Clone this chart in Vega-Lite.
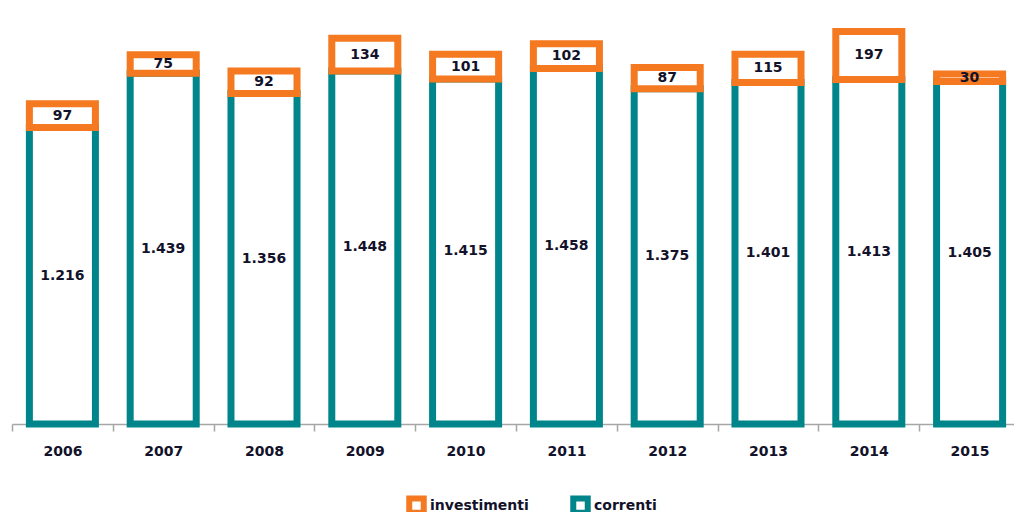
{
  "$schema": "https://vega.github.io/schema/vega-lite/v6.json",
  "autosize": "none",
  "width": 1002,
  "height": 424,
  "padding": {"left": 12, "top": 0, "right": 0, "bottom": 88},
  "background": "white",
  "config": {
    "view": {"stroke": null},
    "locale": {"number": {"decimal": ",", "thousands": ".", "grouping": [3], "currency": ["€", ""]}},
    "font": "DejaVu Sans"
  },
  "data": {
    "values": [
      {"anno": "2006", "tipo": "correnti", "valore": 1216},
      {"anno": "2006", "tipo": "investimenti", "valore": 97},
      {"anno": "2007", "tipo": "correnti", "valore": 1439},
      {"anno": "2007", "tipo": "investimenti", "valore": 75},
      {"anno": "2008", "tipo": "correnti", "valore": 1356},
      {"anno": "2008", "tipo": "investimenti", "valore": 92},
      {"anno": "2009", "tipo": "correnti", "valore": 1448},
      {"anno": "2009", "tipo": "investimenti", "valore": 134},
      {"anno": "2010", "tipo": "correnti", "valore": 1415},
      {"anno": "2010", "tipo": "investimenti", "valore": 101},
      {"anno": "2011", "tipo": "correnti", "valore": 1458},
      {"anno": "2011", "tipo": "investimenti", "valore": 102},
      {"anno": "2012", "tipo": "correnti", "valore": 1375},
      {"anno": "2012", "tipo": "investimenti", "valore": 87},
      {"anno": "2013", "tipo": "correnti", "valore": 1401},
      {"anno": "2013", "tipo": "investimenti", "valore": 115},
      {"anno": "2014", "tipo": "correnti", "valore": 1413},
      {"anno": "2014", "tipo": "investimenti", "valore": 197},
      {"anno": "2015", "tipo": "correnti", "valore": 1405},
      {"anno": "2015", "tipo": "investimenti", "valore": 30}
    ]
  },
  "encoding": {
    "x": {
      "field": "anno",
      "type": "ordinal",
      "scale": {"range": [0, 1008], "paddingInner": 0, "paddingOuter": 0},
      "axis": {
        "title": null,
        "labelAngle": 0,
        "tickBand": "extent",
        "tickSize": 7,
        "tickColor": "#a6a6a6",
        "domainColor": "#a6a6a6",
        "domainWidth": 1.5,
        "tickWidth": 1.5,
        "labelPadding": 13,
        "labelFont": "DejaVu Sans",
        "labelFontSize": 14,
        "labelFontWeight": "bold",
        "labelColor": "#12122a"
      }
    },
    "y": {
      "field": "valore",
      "type": "quantitative",
      "stack": "zero",
      "scale": {"domain": [0, 1739], "nice": false, "zero": true},
      "axis": null
    },
    "order": {"field": "tipo", "sort": "ascending"}
  },
  "layer": [
    {
      "mark": {"type": "bar", "fill": "white", "strokeWidth": 7, "width": {"band": 0.655}, "strokeJoin": "miter"},
      "encoding": {
        "stroke": {
          "field": "tipo",
          "type": "nominal",
          "scale": {"domain": ["investimenti", "correnti"], "range": ["#F47920", "#00868A"]},
          "legend": {
            "title": null,
            "orient": "none",
            "direction": "horizontal",
            "legendX": 394,
            "legendY": 495,
            "padding": 0,
            "symbolType": "square",
            "symbolSize": 210,
            "symbolStrokeWidth": 6,
            "symbolFillColor": "white",
            "labelFont": "DejaVu Sans",
            "labelFontSize": 14,
            "labelFontWeight": "bold",
            "labelColor": "#12122a",
            "labelOffset": 3,
            "columnPadding": 32
          }
        }
      }
    },
    {
      "mark": {"type": "text", "font": "DejaVu Sans", "fontSize": 14, "fontWeight": "bold", "color": "#12122a", "baseline": "middle"},
      "encoding": {
        "y": {
          "field": "valore",
          "type": "quantitative",
          "stack": "zero",
          "bandPosition": 0.5
        },
        "detail": {"field": "tipo", "type": "nominal"},
        "text": {"field": "valore", "type": "quantitative", "format": ",d"}
      }
    }
  ]
}
